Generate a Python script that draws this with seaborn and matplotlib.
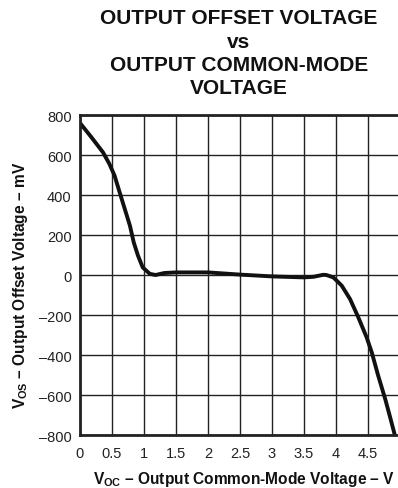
import numpy as np
import pandas as pd
import seaborn as sns
import matplotlib
matplotlib.use("Agg")
import matplotlib.pyplot as plt

# Output offset voltage (mV) versus output common-mode voltage (V)
voc = [0.0, 0.18, 0.36, 0.46, 0.54, 0.62, 0.70, 0.78, 0.84, 0.906, 0.98, 1.09,
       1.18, 1.32, 1.5, 2.0, 2.5, 3.0, 3.5, 3.65, 3.8, 3.85, 3.96, 4.09, 4.22,
       4.35, 4.48, 4.56, 4.66, 4.77, 4.84, 4.92]
vos = [760, 688, 613, 555, 497, 413, 330, 247, 163, 97, 38, 6,
       0, 10, 13, 13, 2, -7, -12, -9, 1, 0, -12, -53, -120,
       -212, -312, -387, -503, -620, -703, -800]

x_ticks = [0, 0.5, 1, 1.5, 2, 2.5, 3, 3.5, 4, 4.5]
x_labels = ["0", "0.5", "1", "1.5", "2", "2.5", "3", "3.5", "4", "4.5"]
y_ticks = [-800, -600, -400, -200, 0, 200, 400, 600, 800]
y_labels = ["\u2013800", "\u2013600", "\u2013400", "\u2013200", "0", "200", "400", "600", "800"]

sns.set_theme(style="white")
plt.rcParams["font.family"] = ["Liberation Sans", "DejaVu Sans"]
plt.rcParams["mathtext.fontset"] = "custom"
plt.rcParams["mathtext.rm"] = "Liberation Sans"
plt.rcParams["mathtext.bf"] = "Liberation Sans:bold"

fig = plt.figure(figsize=(3.98, 4.89), dpi=100)
ax = fig.add_axes([80 / 398, 1 - 436 / 489, 318 / 398, 320 / 489])

df = pd.DataFrame({"voc": voc, "vos": vos})
sns.lineplot(data=df, x="voc", y="vos", ax=ax, color="#111111", linewidth=2.8,
             sort=True, estimator=None)
ax.lines[0].set_solid_joinstyle("round")
ax.lines[0].set_solid_capstyle("round")

ax.set_xlim(0, 4.97)
ax.set_ylim(-800, 800)
ax.set_xticks(x_ticks)
ax.set_xticklabels(x_labels)
ax.set_yticks(y_ticks)
ax.set_yticklabels(y_labels)
ax.tick_params(axis="both", length=0, labelsize=10.5, colors="#222222")
ax.tick_params(axis="y", pad=6)
ax.tick_params(axis="x", pad=8)

ax.grid(True, color="#222222", linewidth=1.0)
ax.set_axisbelow(True)
for side in ["left", "bottom", "top"]:
    ax.spines[side].set_visible(True)
    ax.spines[side].set_color("#222222")
    ax.spines[side].set_linewidth(2.0)
ax.spines["right"].set_visible(False)

dash = "\u2013"
ax.set_xlabel(r"$\mathbf{V}_{\mathbf{OC}}$ " + dash + " Output Common-Mode Voltage " + dash + " V",
              fontsize=11.2, fontweight="bold", color="#111111")
ax.set_ylabel(r"$\mathbf{V}_{\mathbf{OS}}$ " + dash + " Output Offset Voltage " + dash + " mV",
              fontsize=11.2, fontweight="bold", color="#111111")
ax.xaxis.set_label_coords(0.516, -0.105)
ax.yaxis.set_label_coords(-0.157, 0.47)

title = "OUTPUT OFFSET VOLTAGE\nvs\nOUTPUT COMMON-MODE\nVOLTAGE"
fig.text(239 / 398, 1 - 9 / 489, title, ha="center", va="top", fontsize=15,
         fontweight="bold", color="#111111", linespacing=1.3)

fig.savefig("out.png", dpi=100, facecolor="white")
